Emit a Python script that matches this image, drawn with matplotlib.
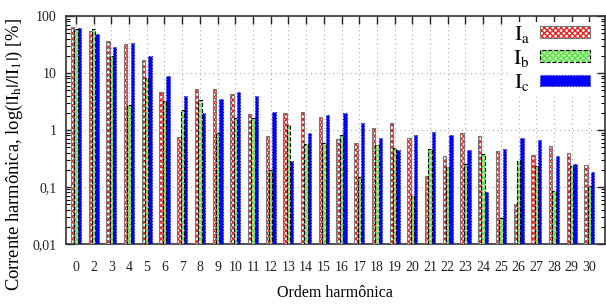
import matplotlib
matplotlib.use('Agg')
import matplotlib.pyplot as plt
import numpy as np
from matplotlib.patches import Patch
from matplotlib.ticker import LogLocator, FixedLocator, FixedFormatter, NullFormatter

# ordens harmonicas (a 1a falta no grafico)
ordens = [0, 2, 3, 4, 5, 6, 7, 8, 9, 10, 11, 12, 13, 14, 15, 16, 17, 18, 19, 20,
          21, 22, 23, 24, 25, 26, 27, 28, 29, 30]
ia = [64, 54, 36.5, 32.8, 16.6, 4.7, 0.74, 5.3, 5.3, 4.3, 1.87, 0.78, 1.98, 2.1, 1.66,
      0.68, 0.58, 1.09, 1.32, 0.73, 0.154, 0.345, 0.89, 0.78, 0.43, 0.05, 0.36, 0.52, 0.40, 0.24]
ib = [58, 60, 20, 2.7, 8.0, 3.2, 2.2, 3.4, 0.9, 1.64, 1.6, 0.196, 1.23, 0.57, 0.58,
      0.8, 0.148, 0.54, 0.49, 0.068, 0.46, 0.22, 0.25, 0.38, 0.029, 0.29, 0.236, 0.085, 0.23, 0.104]
ic = [62, 48, 28.6, 33, 19.5, 9.0, 4.0, 1.95, 3.5, 4.6, 4.0, 2.1, 0.29, 0.89, 1.8,
      2.0, 1.3, 0.71, 0.44, 0.82, 0.93, 0.82, 0.45, 0.082, 0.46, 0.71, 0.66, 0.355, 0.253, 0.18]
rotulos = ['$\\mathrm{I_a}$', '$\\mathrm{I_b}$', '$\\mathrm{I_c}$']
yticks = [0.01, 0.1, 1, 10, 100]
ylabels = ['0,01', '0,1', '1', '10', '100']

plt.rcParams['font.family'] = ['Liberation Serif', 'DejaVu Serif']
plt.rcParams['mathtext.fontset'] = 'stix'
plt.rcParams['hatch.linewidth'] = 1.0

fig = plt.figure(figsize=(6.06, 3.06), dpi=100)
ax = fig.add_axes([0.109, 0.203, 0.889, 0.745])

x = np.arange(len(ordens))
w = 0.19
base = 0.01

# Ia: quadriculado vermelho, borda cinza
ax.bar(x - w, np.array(ia) - base, w, bottom=base, color='white', edgecolor='#ee2222',
       hatch='xxxxxx', linewidth=0, zorder=3)
ax.bar(x - w, np.array(ia) - base, w, bottom=base, fill=False, edgecolor='#777777',
       linewidth=0.8, zorder=4)
# Ib: verde claro, borda tracejada preta
ax.bar(x, np.array(ib) - base, w, bottom=base, color='#b8f5a8', edgecolor='#66dd55',
       hatch='xxxxxx', linewidth=0, zorder=3)
ax.bar(x, np.array(ib) - base, w, bottom=base, fill=False, edgecolor='black',
       linestyle='--', linewidth=0.8, zorder=4)
# Ic: azul
ax.bar(x + w, np.array(ic) - base, w, bottom=base, color='#0000ff', edgecolor='#1a1aaa',
       linestyle=':', linewidth=0.8, zorder=3)

ax.set_yscale('log')
ax.set_ylim(0.01, 100)
ax.set_xlim(-0.56, 29.87)

ax.yaxis.set_major_locator(FixedLocator(yticks))
ax.yaxis.set_major_formatter(FixedFormatter(ylabels))
ax.yaxis.set_minor_locator(LogLocator(base=10, subs=np.arange(2, 10)))
ax.yaxis.set_minor_formatter(NullFormatter())
ax.set_xticks(x)
ax.set_xticklabels([str(o) for o in ordens])

ax.tick_params(axis='both', which='major', direction='in', top=True, right=True,
               length=6, width=1, labelsize=10, colors='#222222')
ax.tick_params(axis='y', which='minor', direction='in', right=True, length=3, width=0.8)
ax.tick_params(axis='x', pad=12)
ax.tick_params(axis='y', pad=7)
for s in ax.spines.values():
    s.set_linewidth(1.2)
    s.set_color('#333333')

ax.grid(True, which='major', linestyle=(0, (1, 3)), color='#aaaaaa', linewidth=0.8, zorder=0)
ax.set_axisbelow(True)

ax.set_xlabel('Ordem harmônica', fontsize=11.5, labelpad=8)
ax.set_ylabel('Corrente harmônica, log($|\\mathrm{I_h}|/|\\mathrm{I_1}|$) [%]', fontsize=13.3)
ax.yaxis.set_label_coords(-0.077, 0.39)

# legenda com proxies
h_a = (Patch(facecolor='white', edgecolor='#ee2222', hatch='xxxxxx', linewidth=0),
       Patch(fill=False, edgecolor='#777777', linewidth=0.8))
h_b = (Patch(facecolor='#b8f5a8', edgecolor='#66dd55', hatch='xxxxxx', linewidth=0),
       Patch(fill=False, edgecolor='black', linestyle='--', linewidth=0.8))
h_c = Patch(facecolor='#0000ff', edgecolor='#1a1aaa', linestyle=':', linewidth=0.8)
leg = ax.legend([h_a, h_b, h_c], rotulos, loc='upper right', bbox_to_anchor=(0.977, 0.975),
                markerfirst=False, frameon=True, framealpha=1, edgecolor='none', fancybox=False,
                fontsize=15.5, handlelength=2.35, handleheight=0.47, labelspacing=0.15,
                handletextpad=0.45, borderpad=0.1, borderaxespad=0)

fig.savefig('out.png', dpi=100)
